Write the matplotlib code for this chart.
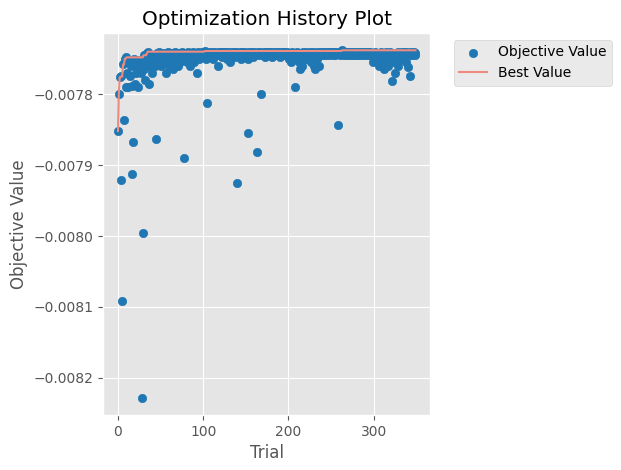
import numpy as np
import matplotlib
matplotlib.use("Agg")
import matplotlib.pyplot as plt

# objective values in units of 1e-7
vals = [
-78520,-78000,-77760,-79210,-77750,-80910,-77580,-78360,-77500,-77900,-77480,-77700,-77900,-77550,-77750,-77600,-77880,-79120,-78670,-77500,-77850,-77700,-77520,-77650,-77900,
-77600,-77550,-77700,-82280,-79960,-77450,-77650,-77800,-77550,-77420,-77400,-77850,-77600,-77500,-77450,-77700,-77550,-77450,-77600,-77500,-78630,-77420,-77480,-77400,-77550,
-77450,-77600,-77500,-77420,-77550,-77480,-77700,-77450,-77520,-77400,-77600,-77480,-77550,-77420,-77500,-77650,-77450,-77400,-77520,-77480,-77600,-77450,-77420,-77550,-77480,
-77400,-77500,-77450,-78900,-77420,-77480,-77550,-77400,-77450,-77600,-77420,-77500,-77450,-77400,-77550,-77480,-77420,-77450,-77700,-77400,-77500,-77450,-77420,-77480,-77400,
-77420,-77450,-77390,-77500,-77420,-78130,-77450,-77400,-77480,-77420,-77400,-77450,-77500,-77420,-77400,-77450,-77420,-77600,-77400,-77450,-77420,-77400,-77480,-77420,-77400,
-77450,-77400,-77420,-77500,-77400,-77420,-77450,-77550,-77400,-77420,-77450,-77400,-77480,-77420,-77400,-79250,-77420,-77450,-77400,-77500,-77420,-77400,-77450,-77420,-77400,
-77450,-77420,-77500,-78550,-77400,-77420,-77450,-77400,-77480,-77420,-77400,-77450,-77420,-78820,-77400,-77450,-77420,-77400,-77990,-77420,-77450,-77400,-77480,-77420,-77400,
-77450,-77420,-77400,-77450,-77420,-77400,-77480,-77420,-77400,-77450,-77420,-77400,-77450,-77420,-77400,-77480,-77420,-77400,-77450,-77420,-77400,-77450,-77420,-77400,-77480,
-77450,-77500,-77420,-77550,-77400,-77450,-77500,-77420,-77900,-77450,-77400,-77420,-77550,-77650,-77450,-77420,-77600,-77400,-77450,-77500,-77420,-77400,-77450,-77420,-77500,
-77400,-77450,-77550,-77420,-77400,-77600,-77650,-77450,-77400,-77500,-77420,-77600,-77400,-77450,-77420,-77400,-77450,-77420,-77400,-77450,-77420,-77400,-77450,-77420,-77400,
-77420,-77400,-77450,-77420,-77400,-77450,-77420,-77400,-78430,-77420,-77400,-77450,-77420,-77380,-77450,-77420,-77400,-77450,-77420,-77400,-77450,-77420,-77400,-77450,-77420,
-77400,-77450,-77420,-77400,-77450,-77420,-77400,-77450,-77420,-77400,-77450,-77420,-77400,-77450,-77420,-77400,-77450,-77420,-77400,-77450,-77420,-77400,-77450,-77420,-77550,
-77450,-77420,-77400,-77450,-77420,-77500,-77600,-77420,-77400,-77500,-77550,-77420,-77650,-77450,-77400,-77550,-77420,-77600,-77450,-77400,-77500,-77420,-77810,-77450,-77550,
-77700,-77450,-77420,-77600,-77400,-77450,-77420,-77500,-77400,-77450,-77420,-77400,-77450,-77550,-77400,-77620,-77450,-77750,-77420,-77400,-77450,-77420,-77400,-77450,-77420,
]
scale = 1e-7

plt.style.use("ggplot")
y = np.array(vals) * scale
x = np.arange(len(y))
best = np.maximum.accumulate(y)

fig = plt.figure(figsize=(6.21, 4.7), dpi=100)
ax = fig.add_axes([0.166, 0.117, 0.527, 0.813])
ax.scatter(x, y, color="#1f77b4", label="Objective Value", zorder=2)
ax.plot(x, best, color="#ef8a7e", label="Best Value", zorder=3)
ax.set_title("Optimization History Plot")
ax.set_xlabel("Trial")
ax.set_ylabel("Objective Value")
ax.ticklabel_format(axis="y", useOffset=False)
ax.legend(loc="upper left", bbox_to_anchor=(1.05, 1.0))
fig.savefig("out.png", dpi=100)
